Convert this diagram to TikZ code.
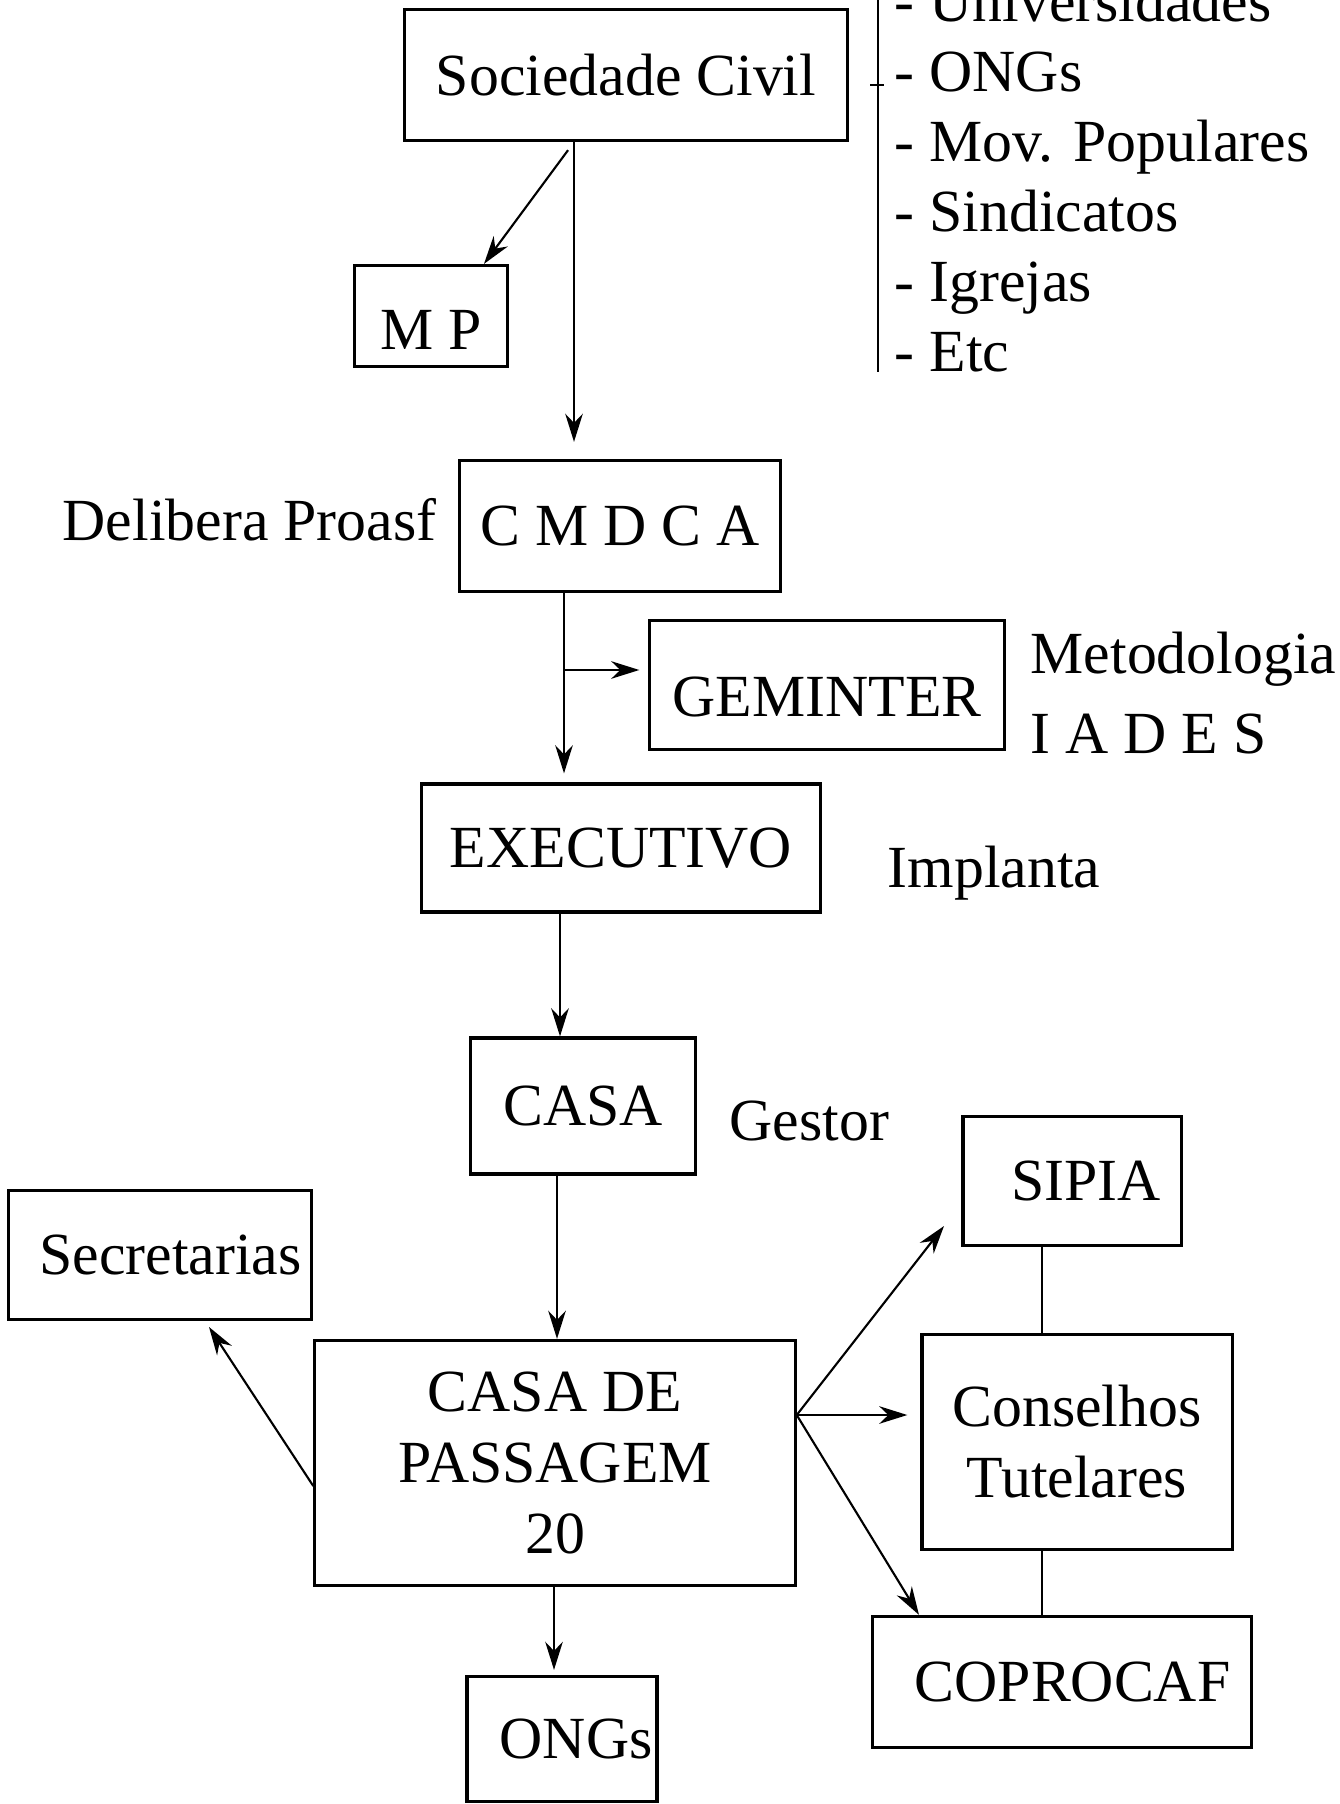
\documentclass[tikz,border=0pt]{standalone}
\usepackage{fontspec}
\setmainfont{Liberation Serif}
\usetikzlibrary{arrows.meta}

\begin{document}
\begin{tikzpicture}[x=0.01cm,y=-0.01cm,
  box/.style={draw,line width=0.9pt,inner sep=0pt,align=center,font=\fontsize{17}{20.2}\selectfont},
  lbl/.style={inner sep=0pt,font=\fontsize{17}{20.2}\selectfont},
  arr/.style={line width=0.6pt,-{Stealth[length=8pt,width=5pt]}},
  lnk/.style={line width=0.6pt}]
\useasboundingbox (0,0) rectangle (1339,1804);

% boxes
\node[box,minimum width=4.43cm,minimum height=1.31cm] (soc) at (626,75) {Sociedade Civil};
\node[box,minimum width=1.53cm,minimum height=1.01cm] (mp) at (431,316) {\rule{0pt}{19pt}M P};
\node[box,minimum width=3.20cm,minimum height=1.31cm] (cmdca) at (620,526) {C M D C A};
\node[box,minimum width=3.54cm,minimum height=1.29cm] (gem) at (827,685) {\rule{0pt}{18pt}GEMINTER};
\node[box,minimum width=3.98cm,minimum height=1.28cm] (exec) at (621,848) {EXECUTIVO};
\node[box,minimum width=2.25cm,minimum height=1.36cm] (casa) at (583,1106) {CASA};
\node[box,minimum width=3.02cm,minimum height=1.29cm] (sec) at (160,1255) {\hspace*{6pt}Secretarias};
\node[box,minimum width=4.80cm,minimum height=2.45cm] (cdp) at (555,1463) {CASA DE\\PASSAGEM\\20};
\node[box,minimum width=2.18cm,minimum height=1.29cm] (sipia) at (1072,1181) {\hspace*{8pt}SIPIA};
\node[box,minimum width=3.10cm,minimum height=2.15cm] (cons) at (1077,1442) {Conselhos\\Tutelares};
\node[box,minimum width=3.79cm,minimum height=1.31cm] (coprocaf) at (1062,1682) {\hspace*{6pt}COPROCAF};
\node[box,minimum width=1.90cm,minimum height=1.25cm] (ongs) at (562,1739) {\hspace*{8pt}ONGs};

% side texts
\node[lbl,anchor=base east] (delib) at (437,541) {Delibera Proasf};
\node[lbl,anchor=base west] (metod) at (1030,673) {Metodologia};
\node[lbl,anchor=base west] (iades) at (1030,753) {I A D E S};
\node[lbl,anchor=base west] (impl) at (887,887) {Implanta};
\node[lbl,anchor=base west] (gestor) at (729,1140) {Gestor};

% list of the sociedade civil
\coordinate (brtop) at (878,0);
\coordinate (brbot) at (878,372);
\draw[lnk] (brtop) -- (brbot);
\draw[lnk] ([xshift=-0.08cm]brtop |- 0,85) -- ([xshift=0.06cm]brtop |- 0,85);
\foreach \txt [count=\k from 0] in {Universidades,ONGs,Mov. Populares,Sindicatos,Igrejas,Etc}
  \node[lbl,anchor=base west] (item\k) at (894,22+70*\k) {- \txt};

% columns of the arrows
\coordinate (sp1) at (574,0);
\coordinate (sp2) at (564,0);
\coordinate (sp3) at (560,0);
\coordinate (sp4) at (557,0);
\coordinate (sp5) at (554,0);
\coordinate (mpx) at (484,0);
\coordinate (br) at (564,670);
\coordinate (lw) at (315,1486);
\coordinate (sectip) at (209,1327);
\coordinate (fan) at (797,1415);
\coordinate (sipiatip) at (944,1226);
\coordinate (copx) at (919,0);
\coordinate (rx) at (1042,0);

\draw[arr,shorten >=0.17cm] (soc.south -| sp1) -- (cmdca.north -| sp1);
\draw[arr,shorten <=0.1cm] (soc.south -| sp1) -- (mp.north -| mpx);
\draw[arr,shorten >=0.09cm] (cmdca.south -| sp2) -- (exec.north -| sp2);
\draw[arr,shorten >=0.09cm] (br) -- (gem.west |- br);
\draw[arr] (exec.south -| sp3) -- (casa.north -| sp3);
\draw[arr] (casa.south -| sp4) -- (cdp.north -| sp4);
\draw[arr] (cdp.west |- lw) -- (sectip);
\draw[arr] (cdp.east |- fan) -- (sipiatip);
\draw[arr,shorten >=0.13cm] (cdp.east |- fan) -- (cons.west |- fan);
\draw[arr] (cdp.east |- fan) -- (coprocaf.north -| copx);
\draw[arr,shorten >=0.05cm] (cdp.south -| sp5) -- (ongs.north -| sp5);
\draw[lnk] (sipia.south -| rx) -- (cons.north -| rx);
\draw[lnk] (cons.south -| rx) -- (coprocaf.north -| rx);

\end{tikzpicture}
\end{document}
